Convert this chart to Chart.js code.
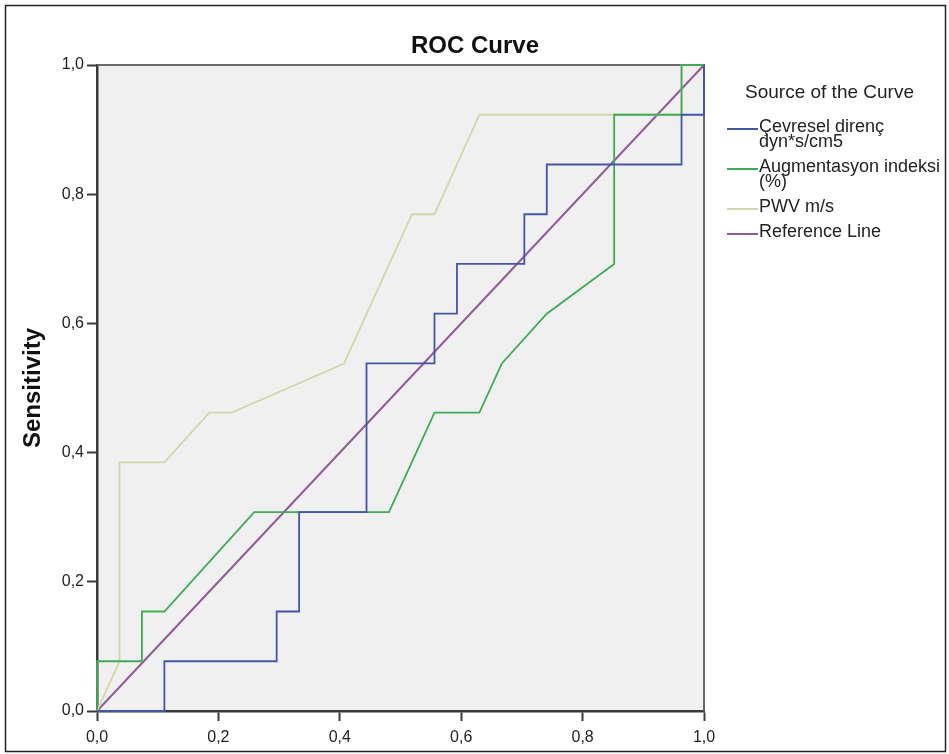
<!DOCTYPE html>
<html><head><meta charset="utf-8">
<script src="https://cdn.jsdelivr.net/npm/chart.js@4.4.1/dist/chart.umd.min.js"></script>
<style>html,body{margin:0;padding:0;background:#fff;}canvas{display:block;}</style>
</head><body>
<canvas id="c" width="949" height="754"></canvas>
<script>
// ---- text ----
const chartTitle = 'ROC Curve';
const legendTitle = 'Source of the Curve';
const yAxisTitle = 'Sensitivity';
const tickValues = [0, 0.2, 0.4, 0.6, 0.8, 1.0];
const tickLabels = ['0,0', '0,2', '0,4', '0,6', '0,8', '1,0'];
const seriesNames = [
  ['Çevresel direnç', 'dyn*s/cm5'],
  ['Augmentasyon indeksi', '(%)'],
  ['PWV m/s'],
  ['Reference Line']
];

// ---- data (1 - specificity, sensitivity) ----
const cevreselFpr  = [0, 0.111, 0.111, 0.296, 0.296, 0.333, 0.333, 0.444, 0.444, 0.556, 0.556, 0.593, 0.593, 0.704, 0.704, 0.741, 0.741, 0.963, 0.963, 1, 1];
const cevreselSens = [0, 0, 0.077, 0.077, 0.154, 0.154, 0.308, 0.308, 0.538, 0.538, 0.615, 0.615, 0.692, 0.692, 0.769, 0.769, 0.846, 0.846, 0.923, 0.923, 1];

const augFpr  = [0, 0, 0.074, 0.074, 0.111, 0.259, 0.481, 0.556, 0.630, 0.667, 0.741, 0.852, 0.852, 0.963, 0.963, 1];
const augSens = [0, 0.077, 0.077, 0.154, 0.154, 0.308, 0.308, 0.462, 0.462, 0.538, 0.615, 0.692, 0.923, 0.923, 1, 1];

const pwvFpr  = [0, 0.037, 0.037, 0.111, 0.185, 0.222, 0.407, 0.519, 0.556, 0.630, 0.963, 0.963, 1];
const pwvSens = [0, 0.077, 0.385, 0.385, 0.462, 0.462, 0.538, 0.769, 0.769, 0.923, 0.923, 1, 1];

const refFpr  = [0, 1];
const refSens = [0, 1];

const seriesColors = ['#4356a6', '#3fab55', '#d3d6a8', '#93599c'];

function pts(xs, ys) { return xs.map((x, i) => ({ x: x, y: ys[i] })); }

const FONT = "'Liberation Sans', Arial, sans-serif";

const decorPlugin = {
  id: 'decor',
  beforeDraw(chart) {
    const { ctx, chartArea: a } = chart;
    ctx.save();
    ctx.fillStyle = '#fff';
    ctx.fillRect(0, 0, chart.width, chart.height);
    ctx.fillStyle = '#f0f0f0';
    ctx.fillRect(a.left, a.top, a.right - a.left, a.bottom - a.top);
    // outer frame
    ctx.strokeStyle = '#222';
    ctx.lineWidth = 1.5;
    ctx.strokeRect(5.5, 5.5, 940, 746);
    ctx.restore();
  },
  beforeDatasetsDraw(chart) {
    const { ctx, chartArea: a } = chart;
    ctx.save();
    ctx.strokeStyle = '#6a6a6a';
    ctx.lineWidth = 2;
    ctx.beginPath();
    ctx.moveTo(a.left, a.top); ctx.lineTo(a.right, a.top); ctx.lineTo(a.right, a.bottom);
    ctx.stroke();
    ctx.restore();
  },
  afterDraw(chart) {
    const { ctx } = chart;
    ctx.save();
    // chart title
    ctx.fillStyle = '#111';
    ctx.font = 'bold 24px ' + FONT;
    ctx.textAlign = 'center';
    ctx.textBaseline = 'alphabetic';
    ctx.fillText(chartTitle, 475, 53);
    // legend
    ctx.textAlign = 'left';
    ctx.font = '19px ' + FONT;
    ctx.fillStyle = '#222';
    ctx.fillText(legendTitle, 745, 98);
    ctx.font = '18px ' + FONT;
    let base = 132;
    chart.data.datasets.forEach((ds, i) => {
      const lines = seriesNames[i];
      ctx.strokeStyle = ds.borderColor;
      ctx.lineWidth = 2;
      ctx.beginPath();
      ctx.moveTo(727, base - 3); ctx.lineTo(758, base - 3);
      ctx.stroke();
      ctx.fillStyle = '#222';
      lines.forEach((t, k) => ctx.fillText(t, 759, base + k * 15));
      base += lines.length * 15 + 10;
    });
    ctx.restore();
  }
};

const axisCommon = {
  type: 'linear',
  min: 0,
  max: 1,
  afterBuildTicks: s => { s.ticks = tickValues.map(v => ({ value: v })); },
  ticks: {
    callback: (v) => tickLabels[tickValues.indexOf(v)] ?? '',
    color: '#222',
    font: { family: FONT, size: 16 }
  },
  grid: { drawOnChartArea: false, drawTicks: true, tickLength: 10, tickColor: '#3a3a3a', tickWidth: 2 },
  border: { display: true, color: '#3a3a3a', width: 2.5 }
};

new Chart(document.getElementById('c'), {
  type: 'scatter',
  data: {
    datasets: [
      { label: seriesNames[0].join(' '), data: pts(cevreselFpr, cevreselSens) },
      { label: seriesNames[1].join(' '), data: pts(augFpr, augSens) },
      { label: seriesNames[2].join(' '), data: pts(pwvFpr, pwvSens) },
      { label: seriesNames[3].join(' '), data: pts(refFpr, refSens) }
    ].map((d, i) => Object.assign(d, {
      showLine: true,
      borderColor: seriesColors[i],
      backgroundColor: seriesColors[i],
      borderWidth: i === 3 ? 2 : 1.8,
      pointRadius: 0,
      pointHoverRadius: 0,
      tension: 0,
      clip: false
    }))
  },
  options: {
    responsive: false,
    animation: false,
    layout: { padding: { left: 5, top: 65, right: 245, bottom: 0 } },
    plugins: { legend: { display: false }, tooltip: { enabled: false }, title: { display: false } },
    scales: {
      x: Object.assign({}, axisCommon, {
        position: 'bottom',
        ticks: Object.assign({}, axisCommon.ticks, { padding: 7, maxRotation: 0 }),
        afterFit: s => { s.height = 43; }
      }),
      y: Object.assign({}, axisCommon, {
        position: 'left',
        ticks: Object.assign({}, axisCommon.ticks, { padding: 3 }),
        title: { display: true, text: yAxisTitle, color: '#111', font: { family: FONT, size: 24, weight: 'bold' }, padding: { top: 14, bottom: 0 } },
        afterFit: s => { s.width = 92; }
      })
    }
  },
  plugins: [decorPlugin]
});
</script>
</body></html>
